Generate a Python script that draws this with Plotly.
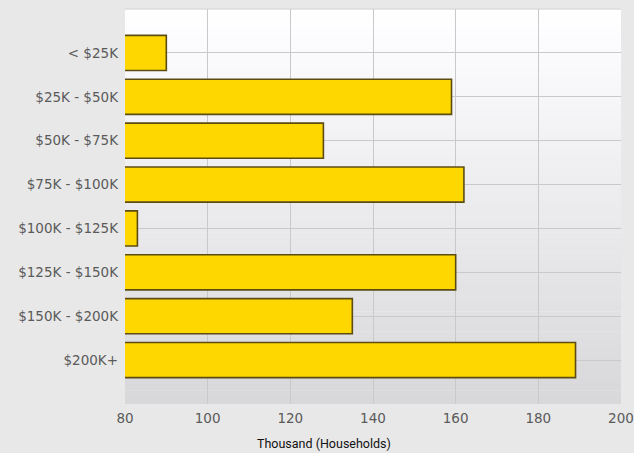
import plotly.graph_objects as go

# Household income brackets and household counts (thousands)
brackets = ["< $25K", "$25K - $50K", "$50K - $75K", "$75K - $100K",
            "$100K - $125K", "$125K - $150K", "$150K - $200K", "$200K+"]
households = [90, 159, 128, 162, 83, 160, 135, 189]
x_ticks = [80, 100, 120, 140, 160, 180, 200]

fig = go.Figure()

fig.add_trace(go.Bar(
    y=brackets,
    x=households,
    orientation="h",
    width=0.8,
    marker=dict(color="#FFD700", line=dict(color="#5c4c12", width=1.6)),
    hoverinfo="x+y",
))

# Vertical white-to-grey gradient behind the plot area, built from thin bands
n_bands = 60
for i in range(n_bands):
    t = i / (n_bands - 1)
    v = round(255 - (255 - 216) * t)
    fig.add_shape(
        type="rect", xref="x domain", yref="y domain",
        x0=0, x1=1, y0=1 - (i + 1) / n_bands, y1=1 - i / n_bands + 0.001,
        fillcolor=f"rgb({v},{v},{v + 2 if v < 254 else 255})",
        line=dict(width=0), layer="below",
    )

# Top border of the plot area
fig.add_shape(type="line", xref="x domain", yref="y domain",
              x0=0, x1=1, y0=1, y1=1,
              line=dict(color="#cacaca", width=1), layer="below")

# Axis title, centred under the chart
fig.add_annotation(
    text="Thousand (Households)",
    xref="paper", yref="paper", x=0.402, y=-0.1,
    xanchor="center", yanchor="middle", showarrow=False,
    font=dict(family="Roboto", size=12.5, color="#111111"),
)

fig.update_layout(
    width=634, height=453,
    margin=dict(l=125, r=13, t=9, b=49, autoexpand=False),
    paper_bgcolor="#e8e8e8",
    plot_bgcolor="#ffffff",
    showlegend=False,
    bargap=0.2,
    font=dict(family="DejaVu Sans", size=13.5, color="#5a5a5a"),
)

fig.update_xaxes(
    range=[80, 200],
    tickvals=x_ticks,
    ticktext=[str(v) for v in x_ticks],
    tickfont=dict(family="DejaVu Sans", size=13.5, color="#5a5a5a"),
    showgrid=True, gridcolor="#c9c9c9", gridwidth=1,
    zeroline=False, showline=False, automargin=False,
    ticks="", ticklabelstandoff=4,
)

fig.update_yaxes(
    type="category",
    categoryorder="array", categoryarray=brackets,
    range=[7 + 1, -1],
    tickfont=dict(family="DejaVu Sans", size=13.5, color="#5a5a5a"),
    showgrid=True, gridcolor="#c9c9c9", gridwidth=1,
    zeroline=False, showline=False, automargin=False,
    ticks="", ticklabelstandoff=6,
)

fig.write_html("out.html")
